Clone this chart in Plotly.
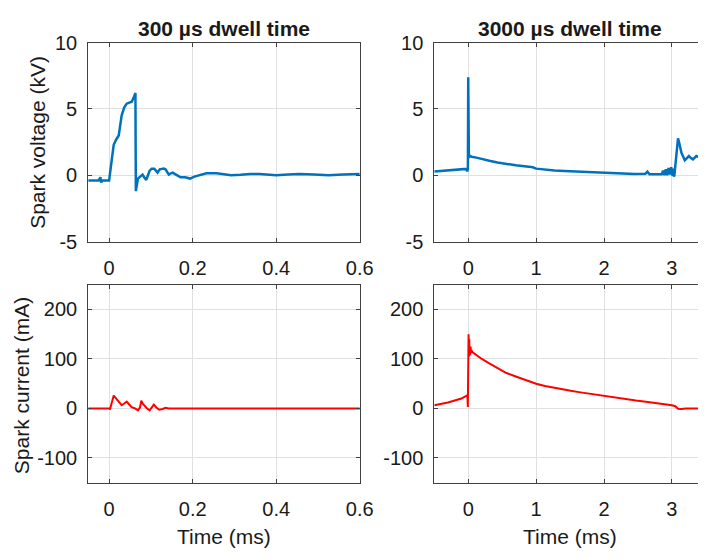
import plotly.graph_objects as go

# ---------------- data ----------------
# 300 us dwell: spark voltage (kV) vs time (ms)
t_v300 = [-0.05, -0.025, -0.021, -0.019, -0.017, -0.012, 0.0, 0.005, 0.011, 0.017, 0.023, 0.030,
          0.036, 0.042, 0.048, 0.054, 0.058, 0.063, 0.0635, 0.064, 0.069, 0.075, 0.080, 0.085,
          0.089, 0.093, 0.097, 0.102, 0.108, 0.112, 0.116, 0.121, 0.126, 0.131, 0.135, 0.139,
          0.143, 0.148, 0.152, 0.160, 0.171, 0.182, 0.194, 0.204, 0.214, 0.224, 0.233, 0.245,
          0.257, 0.275, 0.292, 0.315, 0.338, 0.36, 0.380, 0.400, 0.428, 0.455, 0.49, 0.525,
          0.56, 0.6]
v_v300 = [-0.4, -0.4, -0.15, -0.55, -0.4, -0.4, -0.4, 0.85, 2.3, 2.7, 3.0, 4.5,
          5.1, 5.4, 5.5, 5.55, 5.8, 6.2, 2.0, -1.2, -0.25, -0.1, 0.05, -0.2,
          -0.35, 0.0, 0.35, 0.5, 0.5, 0.35, 0.2, 0.45, 0.5, 0.5, 0.45, 0.25,
          0.05, 0.15, 0.2, 0.05, -0.15, -0.15, -0.25, -0.1, 0.0, 0.1, 0.15, 0.15,
          0.15, 0.08, 0.0, 0.03, 0.1, 0.1, 0.05, 0.0, 0.05, 0.1, 0.05, 0.0,
          0.05, 0.1]

# 3000 us dwell: spark voltage (kV)
t_v3000 = [-0.5, -0.3, -0.1, -0.034, -0.015, -0.005, 0.0, 0.004, 0.01, 0.02, 0.05, 0.12, 0.2, 0.31,
           0.43, 0.55, 0.7, 0.89, 0.95, 1.0, 1.12, 1.27, 1.5, 1.75, 2.0, 2.23, 2.45, 2.61, 2.64, 2.67,
           2.75, 2.85, 2.87, 2.89, 2.91, 2.93, 2.95, 2.97, 2.99, 3.01, 3.02, 3.03, 3.036,
           3.06, 3.09, 3.11, 3.14, 3.19, 3.22, 3.25, 3.28, 3.31, 3.36, 3.39]
v_v3000 = [0.29, 0.35, 0.42, 0.48, 0.3, 0.45, 7.4, 1.45, 1.3, 1.5, 1.4, 1.33, 1.22, 1.09,
           0.97, 0.85, 0.75, 0.65, 0.6, 0.5, 0.42, 0.36, 0.3, 0.24, 0.18, 0.12, 0.1, 0.12, 0.27, 0.07,
           0.07, 0.07, 0.35, 0.0, 0.45, 0.0, 0.55, 0.05, 0.6, -0.05, 0.5, -0.1, 0.0,
           1.2, 2.78, 2.4, 1.7, 1.13, 1.3, 1.45, 1.3, 1.2, 1.45, 1.4]

# 300 us dwell: spark current (mA)
t_i300 = [-0.05, -0.027, -0.025, -0.022, 0.0, 0.002, 0.011, 0.017, 0.023, 0.030, 0.036, 0.042,
          0.048, 0.054, 0.062, 0.069, 0.074, 0.077, 0.081, 0.085, 0.091, 0.097, 0.102, 0.107,
          0.113, 0.120, 0.128, 0.135, 0.143, 0.2, 0.3, 0.4, 0.5, 0.6]
i_i300 = [0, 0, 1.5, 0, 0, -2, 26, 20, 14, 6.5, 10, 14,
          8, 2.6, 0, -4, 2, 15.6, 9, 4.5, 0, -4, 2, 7.8,
          2, -2.6, -1, 1.3, 0, 0, 0, 0, 0, 0]

# 3000 us dwell: spark current (mA)
t_i3000 = [-0.5, -0.3, -0.1, -0.024, -0.012, -0.006, 0.0, 0.005, 0.01, 0.015, 0.02, 0.025, 0.03,
           0.035, 0.04, 0.048, 0.06, 0.12, 0.2, 0.31, 0.43, 0.55, 0.67, 0.79, 0.9, 1.0, 1.13, 1.27,
           1.39, 1.51, 1.63, 1.75, 1.87, 1.99, 2.11, 2.23, 2.35, 2.47, 2.59, 2.71, 2.9, 3.0, 3.05,
           3.09, 3.14, 3.2, 3.3, 3.39]
i_i3000 = [6.5, 12, 20, 26, 27, 3, 60, 150, 105, 140, 108, 132, 110,
           125, 112, 118, 114, 108, 100, 91, 81, 72.5, 66, 60, 55, 50, 45.5, 41.4,
           38.4, 35.6, 33, 30.4, 28.2, 26, 23.3, 20.7, 18.4, 16.2, 14.2, 12.3, 9, 6.5, 4.5,
           -0.6, -1.3, 0, 0, 0]

x_ticks_300 = [0, 0.2, 0.4, 0.6]
x_ticktext_300 = ["0", "0.2", "0.4", "0.6"]
x_ticks_3000 = [0, 1, 2, 3]
x_ticktext_3000 = ["0", "1", "2", "3"]
v_ticks = [-5, 0, 5, 10]
v_ticktext = ["-5", "0", "5", "10"]
i_ticks = [-100, 0, 100, 200]
i_ticktext = ["-100", "0", "100", "200"]

titles = ["300 µs dwell time", "3000 µs dwell time"]
ylab_v = "Spark voltage (kV)"
ylab_i = "Spark current (mA)"
xlab = "Time (ms)"

# ---------------- figure ----------------
W, H = 712, 558
FONT = "Liberation Sans, Arial, Helvetica, sans-serif"
BLUE = "#0072BD"
RED = "#FF0000"
AXC = "#404040"
GRIDC = "#e0e0e0"
TXT = "#1a1a1a"

fig = go.Figure()
fig.add_trace(go.Scatter(x=t_v300, y=v_v300, mode="lines", line=dict(color=BLUE, width=2.5),
                         xaxis="x", yaxis="y", showlegend=False))
fig.add_trace(go.Scatter(x=t_v3000, y=v_v3000, mode="lines", line=dict(color=BLUE, width=2.5),
                         xaxis="x2", yaxis="y2", showlegend=False))
fig.add_trace(go.Scatter(x=t_i300, y=i_i300, mode="lines", line=dict(color=RED, width=2),
                         xaxis="x3", yaxis="y3", showlegend=False))
fig.add_trace(go.Scatter(x=t_i3000, y=i_i3000, mode="lines", line=dict(color=RED, width=2),
                         xaxis="x4", yaxis="y4", showlegend=False))

dl = [90 / W, 367 / W]
dr = [443 / W, 1.0]
dt = [1 - 240 / H, 1 - 33 / H]
db = [1 - 491 / H, 1 - 285 / H]

def xax(domain, rng, tv, tt, anchor):
    return dict(domain=domain, range=rng, tickvals=tv, ticktext=tt, anchor=anchor,
                showline=True, linecolor=AXC, linewidth=1, mirror="ticks",
                ticks="inside", ticklen=4, tickcolor=AXC,
                showgrid=True, gridcolor=GRIDC, gridwidth=1, zeroline=False,
                tickfont=dict(family=FONT, size=20, color=TXT), ticklabelstandoff=8)

def yax(domain, rng, tv, tt, anchor, mirror):
    return dict(domain=domain, range=rng, tickvals=tv, ticktext=tt, anchor=anchor,
                showline=True, linecolor=AXC, linewidth=1, mirror=mirror,
                ticks="inside", ticklen=4, tickcolor=AXC,
                showgrid=True, gridcolor=GRIDC, gridwidth=1, zeroline=False,
                tickfont=dict(family=FONT, size=20, color=TXT), ticklabelstandoff=6)

xr_right = [-0.5, -0.5 + (712 - 443) / (277 / 4.0)]

fig.update_layout(
    width=W, height=H, margin=dict(l=0, r=0, t=0, b=0),
    paper_bgcolor="white", plot_bgcolor="white",
    xaxis=xax(dl, [-0.05, 0.6], x_ticks_300, x_ticktext_300, "y"),
    yaxis=yax(dt, [-5, 10], v_ticks, v_ticktext, "x", "ticks"),
    xaxis2=xax(dr, xr_right, x_ticks_3000, x_ticktext_3000, "y2"),
    yaxis2=yax(dt, [-5, 10], v_ticks, v_ticktext, "x2", False),
    xaxis3=xax(dl, [-0.05, 0.6], x_ticks_300, x_ticktext_300, "y3"),
    yaxis3=yax(db, [-150, 250], i_ticks, i_ticktext, "x3", "ticks"),
    xaxis4=xax(dr, xr_right, x_ticks_3000, x_ticktext_3000, "y4"),
    yaxis4=yax(db, [-150, 250], i_ticks, i_ticktext, "x4", False),
)

ann = []
ann.append(dict(text="<b>" + titles[0] + "</b>", x=228.5 / W, y=1 - 18 / H))
ann.append(dict(text="<b>" + titles[1] + "</b>", x=581.5 / W, y=1 - 18 / H))
ann.append(dict(text=xlab, x=228.5 / W, y=1 - 547 / H))
ann.append(dict(text=xlab, x=581.5 / W, y=1 - 547 / H))
ann.append(dict(text=ylab_v, x=38 / W, y=1 - 137 / H, textangle=-90))
ann.append(dict(text=ylab_i, x=22 / W, y=1 - 390 / H, textangle=-90))
for a in ann:
    a.update(xref="paper", yref="paper", showarrow=False, xanchor="center", yanchor="middle",
             font=dict(family=FONT, size=21, color=TXT))
fig.update_layout(annotations=ann)

fig.write_html("out.html")
